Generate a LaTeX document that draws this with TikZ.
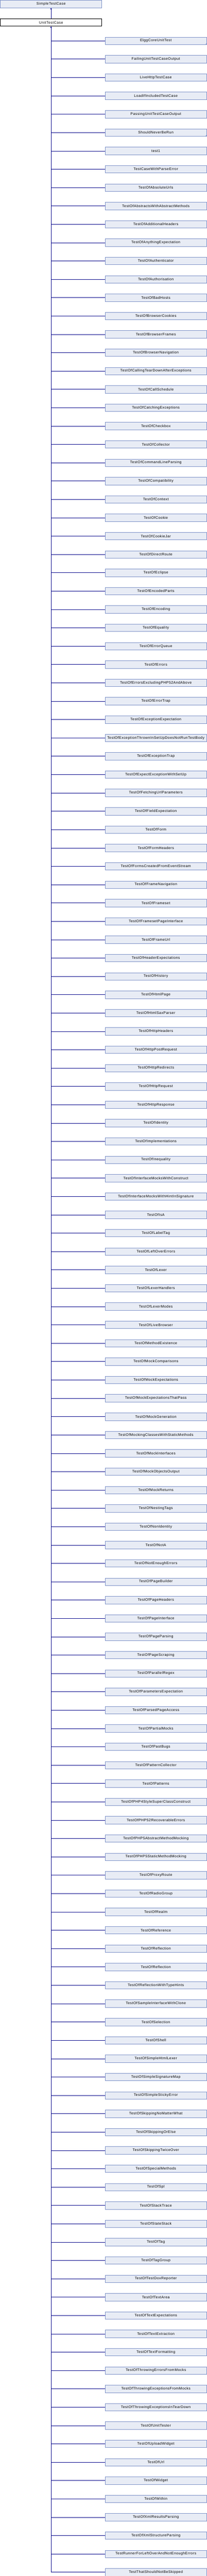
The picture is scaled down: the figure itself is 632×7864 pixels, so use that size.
\documentclass[tikz,border=0pt]{standalone}
\usepackage{fontspec}
\setmainfont{Liberation Sans}[LetterSpace=6.5]
\usetikzlibrary{arrows.meta}
\definecolor{boxfill}{RGB}{232,236,245}
\definecolor{boxline}{RGB}{126,146,200}
\definecolor{linkcol}{RGB}{10,10,140}
\tikzset{
  classbox/.style={draw=boxline, fill=boxfill, line width=1pt, rectangle,
    minimum width=310pt, minimum height=22.7pt, inner sep=0pt,
    font=\fontsize{11}{13}\selectfont, anchor=north west},
  mainbox/.style={classbox, draw=black, fill=white},
  link/.style={draw=linkcol, line width=1pt},
  inh/.style={link, -{Triangle[width=4.6pt,length=4.2pt]}},
  cornermark/.style={fill=boxline}
}
\begin{document}
\begin{tikzpicture}
\useasboundingbox (0pt,0pt) rectangle (632pt,-7864pt);
\node[classbox] (simple) at (0.5pt,-0.5pt) {SimpleTestCase};
\node[mainbox] (unit) at (0.5pt,-56.7pt) {UnitTestCase};
\draw[inh] (unit.north) -- (simple.south);
\foreach \n [count=\i] in {ElggCoreUnitTest,FailingUnitTestCaseOutput,LiveHttpTestCase,LoadIfIncludedTestCase,PassingUnitTestCaseOutput,ShouldNeverBeRun,test1,TestCaseWithParseError,TestOfAbsoluteUrls,TestOfAbstractsWithAbstractMethods,TestOfAdditionalHeaders,TestOfAnythingExpectation,TestOfAuthenticator,TestOfAuthorisation,TestOfBadHosts,TestOfBrowserCookies,TestOfBrowserFrames,TestOfBrowserNavigation,TestOfCallingTearDownAfterExceptions,TestOfCallSchedule,TestOfCatchingExceptions,TestOfCheckbox,TestOfCollector,TestOfCommandLineParsing,TestOfCompatibility,TestOfContext,TestOfCookie,TestOfCookieJar,TestOfDirectRoute,TestOfEclipse,TestOfEncodedParts,TestOfEncoding,TestOfEquality,TestOfErrorQueue,TestOfErrors,TestOfErrorsExcludingPHP52AndAbove,TestOfErrorTrap,TestOfExceptionExpectation,TestOfExceptionThrownInSetUpDoesNotRunTestBody,TestOfExceptionTrap,TestOfExpectExceptionWithSetUp,TestOfFetchingUrlParameters,TestOfFieldExpectation,TestOfForm,TestOfFormHeaders,TestOfFormsCreatedFromEventStream,TestOfFrameNavigation,TestOfFrameset,TestOfFramesetPageInterface,TestOfFrameUrl,TestOfHeaderExpectations,TestOfHistory,TestOfHtmlPage,TestOfHtmlSaxParser,TestOfHttpHeaders,TestOfHttpPostRequest,TestOfHttpRedirects,TestOfHttpRequest,TestOfHttpResponse,TestOfIdentity,TestOfImplementations,TestOfInequality,TestOfInterfaceMocksWithConstruct,TestOfInterfaceMocksWithHintInSignature,TestOfIsA,TestOfLabelTag,TestOfLeftOverErrors,TestOfLexer,TestOfLexerHandlers,TestOfLexerModes,TestOfLiveBrowser,TestOfMethodExistence,TestOfMockComparisons,TestOfMockExpectations,TestOfMockExpectationsThatPass,TestOfMockGeneration,TestOfMockingClassesWithStaticMethods,TestOfMockInterfaces,TestOfMockObjectsOutput,TestOfMockReturns,TestOfNestingTags,TestOfNonIdentity,TestOfNotA,TestOfNotEnoughErrors,TestOfPageBuilder,TestOfPageHeaders,TestOfPageInterface,TestOfPageParsing,TestOfPageScraping,TestOfParallelRegex,TestOfParametersExpectation,TestOfParsedPageAccess,TestOfPartialMocks,TestOfPastBugs,TestOfPatternCollector,TestOfPatterns,TestOfPHP4StyleSuperClassConstruct,TestOfPHP52RecoverableErrors,TestOfPHP5AbstractMethodMocking,TestOfPHP5StaticMethodMocking,TestOfProxyRoute,TestOfRadioGroup,TestOfRealm,TestOfReference,TestOfReflection,TestOfReflection,TestOfReflectionWithTypeHints,TestOfSampleInterfaceWithClone,TestOfSelection,TestOfShell,TestOfSimpleHtmlLexer,TestOfSimpleSignatureMap,TestOfSimpleStickyError,TestOfSkippingNoMatterWhat,TestOfSkippingOrElse,TestOfSkippingTwiceOver,TestOfSpecialMethods,TestOfSpl,TestOfStackTrace,TestOfStateStack,TestOfTag,TestOfTagGroup,TestOfTestDoxReporter,TestOfTextArea,TestOfTextExpectations,TestOfTextExtraction,TestOfTextFormatting,TestOfThrowingErrorsFromMocks,TestOfThrowingExceptionsFromMocks,TestOfThrowingExceptionsInTearDown,TestOfUnitTester,TestOfUploadWidget,TestOfUrl,TestOfWidget,TestOfWithin,TestOfXmlResultsParsing,TestOfXmlStructureParsing,TestRunnerForLeftOverAndNotEnoughErrors,TestThatShouldNotBeSkipped}{
  \pgfmathsetmacro\ty{112.7+56*(\i-1)}
  \node[classbox] (c\i) at (320.5pt,-\ty pt) {\n};
  \coordinate (j\i) at (unit.south |- c\i.west);
  \draw[link] (j\i) -- (c\i.west);
}
\draw[inh] (j139) -- (unit.south);
\fill[cornermark] (c1.south east) -- ++(-5pt,0pt) -- ++(5pt,5pt) -- cycle;
\fill[cornermark] (c6.south east) -- ++(-5pt,0pt) -- ++(5pt,5pt) -- cycle;
\end{tikzpicture}
\end{document}
